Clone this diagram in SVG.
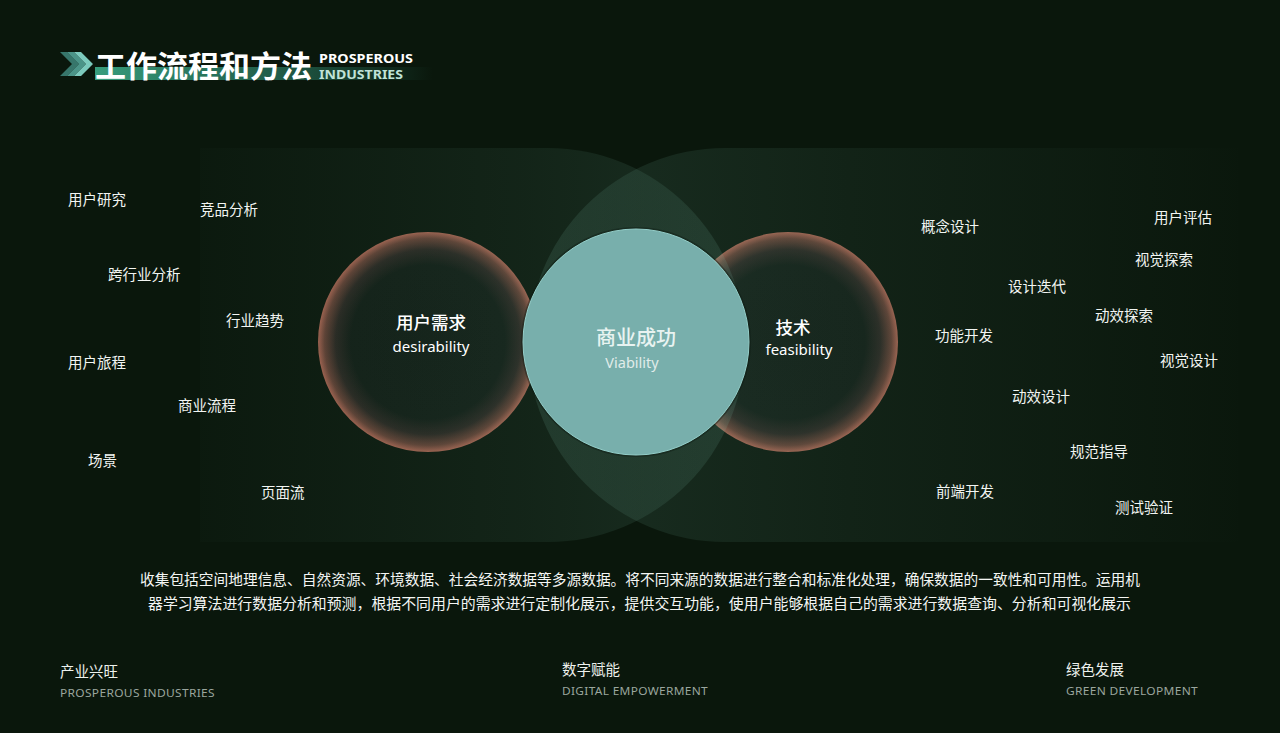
<svg xmlns="http://www.w3.org/2000/svg" width="1280" height="733" viewBox="0 0 1280 733">
<defs>
<style>
.lbl{font-family:"Noto Sans CJK SC","Noto Sans",sans-serif;font-size:14.5px;fill:#f2f5f2}
.para{font-family:"Noto Sans CJK SC","Noto Sans",sans-serif;font-size:14.5px;fill:#f4f6f4}
.ft{font-family:"Noto Sans CJK SC","Noto Sans",sans-serif;font-size:14.5px;fill:#eef2ee}
.fe{font-family:"Noto Sans","Liberation Sans",sans-serif;font-size:11px;fill:#9aa69e;letter-spacing:0.3px}
</style>
<linearGradient id="gL" gradientUnits="userSpaceOnUse" x1="200" y1="0" x2="745" y2="0">
<stop offset="0" stop-color="#7cc0a8" stop-opacity="0.015"/>
<stop offset="0.6" stop-color="#7cc0a8" stop-opacity="0.08"/>
<stop offset="1" stop-color="#7cc0aa" stop-opacity="0.14"/>
</linearGradient>
<linearGradient id="gR" gradientUnits="userSpaceOnUse" x1="527" y1="0" x2="1250" y2="0">
<stop offset="0" stop-color="#7cc0aa" stop-opacity="0.14"/>
<stop offset="0.45" stop-color="#7cc0a8" stop-opacity="0.07"/>
<stop offset="1" stop-color="#7cc0a8" stop-opacity="0"/>
</linearGradient>
<radialGradient id="ring" cx="0.5" cy="0.5" r="0.5">
<stop offset="0" stop-color="#0f1b13"/>
<stop offset="0.7" stop-color="#101c14"/>
<stop offset="0.84" stop-color="#272620"/>
<stop offset="0.94" stop-color="#5c3e32"/>
<stop offset="1" stop-color="#9c5e4c"/>
</radialGradient>
<linearGradient id="bar" x1="0" y1="0" x2="1" y2="0">
<stop offset="0" stop-color="#3aa483" stop-opacity="0.95"/>
<stop offset="0.55" stop-color="#2f8a70" stop-opacity="0.6"/>
<stop offset="1" stop-color="#2f8a70" stop-opacity="0"/>
</linearGradient>
</defs>
<rect x="0" y="0" width="1280" height="733" fill="#0a170c"/>

<g id="title">
<polygon points="60,52 67,52 79,64 67,76 60,76 72,64" fill="#4a9f94" opacity="0.7"/>
<polygon points="67,52 74,52 86,64 74,76 67,76 79,64" fill="#5bb4a8" opacity="0.8"/>
<polygon points="74,52 81,52 93,64 81,76 74,76 86,64" fill="#7ccabd"/>
<rect x="95" y="67" width="338" height="13" fill="url(#bar)"/>
<text x="95" y="77" font-family="Noto Sans CJK SC, sans-serif" font-size="30" font-weight="bold" fill="#ffffff" textLength="217" lengthAdjust="spacingAndGlyphs">工作流程和方法</text>
<text x="319" y="63" font-family="Noto Sans, Liberation Sans, sans-serif" font-size="12" font-weight="bold" fill="#ffffff" textLength="94" lengthAdjust="spacingAndGlyphs">PROSPEROUS</text>
<text x="319" y="79" font-family="Noto Sans, Liberation Sans, sans-serif" font-size="12" font-weight="bold" fill="#bfe3d7" textLength="84" lengthAdjust="spacingAndGlyphs">INDUSTRIES</text>
</g>

<g id="ring-desirability">
<circle cx="428" cy="342" r="110" fill="url(#ring)"/>
</g>
<g id="ring-feasibility">
<circle cx="788" cy="342" r="110" fill="url(#ring)"/>
</g>

<g id="field-left">
<path d="M200,148 H548 A197,197 0 0 1 548,542 H200 Z" fill="url(#gL)"/>
</g>
<g id="field-right">
<path d="M1280,148 H725 A197,197 0 0 0 725,542 H1280 Z" fill="url(#gR)"/>
</g>

<g id="viability">
<circle cx="636" cy="342" r="114" fill="none" stroke="#0c1812" stroke-opacity="0.4" stroke-width="2"/>
<circle cx="636" cy="342" r="113" fill="#78afac" stroke="#93cdc8" stroke-width="1"/>
<text x="636" y="345" text-anchor="middle" font-family="Noto Sans CJK SC, sans-serif" font-size="20" font-weight="500" fill="#e8f3f1">商业成功</text>
<text x="632" y="368" text-anchor="middle" font-family="Noto Sans, sans-serif" font-size="14.5" fill="#e0ecea">Viability</text>
</g>

<g id="desirability">
<text x="431" y="329" text-anchor="middle" font-family="Noto Sans CJK SC, sans-serif" font-size="17.5" font-weight="500" fill="#ffffff">用户需求</text>
<text x="431" y="352" text-anchor="middle" font-family="Noto Sans, sans-serif" font-size="15" fill="#ffffff">desirability</text>
</g>
<g id="feasibility">
<text x="793" y="334" text-anchor="middle" font-family="Noto Sans CJK SC, sans-serif" font-size="17.5" font-weight="500" fill="#ffffff">技术</text>
<text x="799" y="355" text-anchor="middle" font-family="Noto Sans, sans-serif" font-size="15" fill="#ffffff">feasibility</text>
</g>

<g id="left-labels">
<text class="lbl" x="68" y="205">用户研究</text>
<text class="lbl" x="200" y="215">竞品分析</text>
<text class="lbl" x="108" y="280">跨行业分析</text>
<text class="lbl" x="226" y="326">行业趋势</text>
<text class="lbl" x="68" y="368">用户旅程</text>
<text class="lbl" x="178" y="411">商业流程</text>
<text class="lbl" x="88" y="466">场景</text>
<text class="lbl" x="261" y="498">页面流</text>
</g>

<g id="right-labels">
<text class="lbl" x="921" y="232">概念设计</text>
<text class="lbl" x="1154" y="223">用户评估</text>
<text class="lbl" x="1135" y="265">视觉探索</text>
<text class="lbl" x="1008" y="292">设计迭代</text>
<text class="lbl" x="1095" y="321">动效探索</text>
<text class="lbl" x="935" y="341">功能开发</text>
<text class="lbl" x="1160" y="366">视觉设计</text>
<text class="lbl" x="1012" y="402">动效设计</text>
<text class="lbl" x="1070" y="457">规范指导</text>
<text class="lbl" x="936" y="497">前端开发</text>
<text class="lbl" x="1115" y="513">测试验证</text>
</g>

<g id="description">
<text class="para" x="140" y="585" textLength="1000" lengthAdjust="spacingAndGlyphs">收集包括空间地理信息、自然资源、环境数据、社会经济数据等多源数据。将不同来源的数据进行整合和标准化处理，确保数据的一致性和可用性。运用机</text>
<text class="para" x="148" y="609" textLength="983" lengthAdjust="spacingAndGlyphs">器学习算法进行数据分析和预测，根据不同用户的需求进行定制化展示，提供交互功能，使用户能够根据自己的需求进行数据查询、分析和可视化展示</text>
</g>

<g id="footer-1">
<text class="ft" x="60" y="677">产业兴旺</text>
<text class="fe" x="60" y="697" textLength="155" lengthAdjust="spacingAndGlyphs">PROSPEROUS INDUSTRIES</text>
</g>
<g id="footer-2">
<text class="ft" x="562" y="675">数字赋能</text>
<text class="fe" x="562" y="695" textLength="146" lengthAdjust="spacingAndGlyphs">DIGITAL EMPOWERMENT</text>
</g>
<g id="footer-3">
<text class="ft" x="1066" y="675">绿色发展</text>
<text class="fe" x="1066" y="695" textLength="132" lengthAdjust="spacingAndGlyphs">GREEN DEVELOPMENT</text>
</g>
</svg>
